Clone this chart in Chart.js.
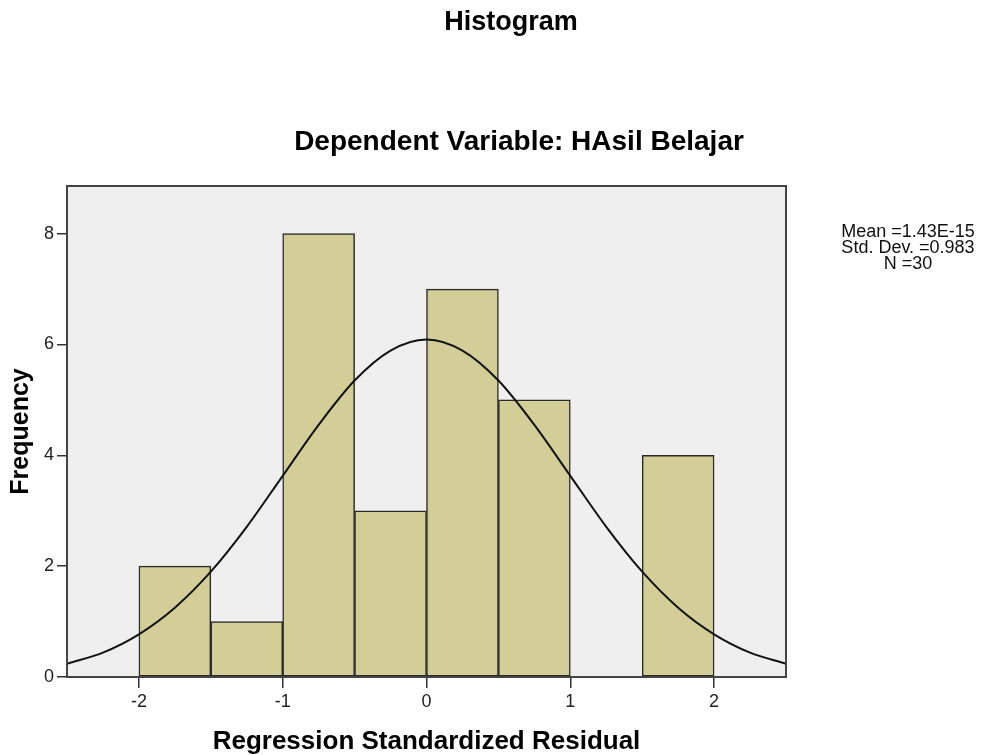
<!DOCTYPE html>
<html>
<head>
<meta charset="utf-8">
<title>Histogram</title>
<script src="https://cdn.jsdelivr.net/npm/chart.js@4"></script>
<style>
  html, body { margin: 0; padding: 0; background: #fff; }
</style>
</head>
<body>
<canvas id="grafico" width="985" height="755"></canvas>
<script>
// datos del histograma (residuales estandarizados, intervalos de 0.5)
const centrosBin = [-1.75, -1.25, -0.75, -0.25, 0.25, 0.75, 1.25, 1.75];
const frecuencias = [2, 1, 8, 3, 7, 5, 0, 4];

// curva normal
const curvaX = [-2.5, -2.25, -2, -1.75, -1.5, -1.25, -1, -0.75, -0.5, -0.25, 0,
                0.25, 0.5, 0.75, 1, 1.25, 1.5, 1.75, 2, 2.25, 2.5];
const curvaY = [0.24, 0.44, 0.77, 1.25, 1.90, 2.71, 3.63, 4.55, 5.35, 5.89, 6.09,
                5.89, 5.35, 4.55, 3.63, 2.71, 1.90, 1.25, 0.77, 0.44, 0.24];

const ticksX = [-2, -1, 0, 1, 2];
const ticksY = [0, 2, 4, 6, 8];
const estadisticos = ['Mean =1.43E-15', 'Std. Dev. =0.983', 'N =30'];

const FUENTE = '"Liberation Sans", Arial, sans-serif';

// fondo gris del área, marco y textos
const decoracion = {
    id: 'decoracion',
    beforeDraw(chart) {
        const { ctx, chartArea: a } = chart;
        ctx.save();
        ctx.fillStyle = '#efefef';
        ctx.fillRect(a.left, a.top, a.width, a.height);
        ctx.restore();
    },
    afterDraw(chart) {
        const { ctx, chartArea: a } = chart;
        ctx.save();
        ctx.strokeStyle = '#444';
        ctx.lineWidth = 2;
        ctx.strokeRect(a.left, a.top, a.width, a.height);

        ctx.fillStyle = '#000';
        ctx.textAlign = 'center';
        ctx.textBaseline = 'middle';
        ctx.font = 'bold 27px ' + FUENTE;
        ctx.fillText('Histogram', 511, 23);
        ctx.font = 'bold 28px ' + FUENTE;
        ctx.fillText('Dependent Variable: HAsil Belajar', 519, 142);

        ctx.font = '18px ' + FUENTE;
        ctx.fillStyle = '#111';
        estadisticos.forEach((t, i) => ctx.fillText(t, 908, 232 + i * 16));
        ctx.restore();
    }
};

const ctx = document.getElementById('grafico').getContext('2d');
new Chart(ctx, {
    type: 'bar',
    data: {
        datasets: [
            {
                type: 'line',
                data: curvaX.map((x, i) => ({ x: x, y: curvaY[i] })),
                borderColor: '#111',
                borderWidth: 2,
                pointRadius: 0,
                fill: false,
                cubicInterpolationMode: 'monotone',
                order: 0
            },
            {
                type: 'bar',
                data: centrosBin.map((x, i) => ({ x: x, y: frecuencias[i] })),
                backgroundColor: '#d3ce97',
                borderColor: '#2a2a2a',
                borderWidth: 1.5,
                borderSkipped: false,
                barPercentage: 1,
                categoryPercentage: 1,
                order: 1
            }
        ]
    },
    options: {
        responsive: false,
        animation: false,
        devicePixelRatio: 1,
        layout: { padding: { left: 0, top: 186, right: 199, bottom: 0 } },
        plugins: {
            legend: { display: false },
            title: { display: false },
            tooltip: { enabled: false }
        },
        scales: {
            x: {
                type: 'linear',
                offset: false,
                min: -2.5,
                max: 2.5,
                afterBuildTicks: s => { s.ticks = ticksX.map(v => ({ value: v })); },
                afterFit: s => { s.height = 78; },
                grid: { offset: false, drawOnChartArea: false, drawTicks: true, tickLength: 11, color: '#333', lineWidth: 1.5 },
                border: { display: true, color: '#333', width: 2 },
                ticks: { color: '#222', padding: 3, font: { family: FUENTE, size: 18 } },
                title: {
                    display: true,
                    text: 'Regression Standardized Residual',
                    color: '#000',
                    padding: { top: 0, bottom: 0 },
                    font: { family: FUENTE, size: 26, weight: 'bold', lineHeight: 1 }
                }
            },
            y: {
                min: 0,
                max: 8.86,
                afterBuildTicks: s => { s.ticks = ticksY.map(v => ({ value: v })); },
                afterFit: s => { s.width = 67; },
                grid: { drawOnChartArea: false, drawTicks: true, tickLength: 10, color: '#333', lineWidth: 1.5 },
                border: { display: true, color: '#333', width: 2 },
                ticks: { color: '#222', padding: 3, font: { family: FUENTE, size: 18 } },
                title: {
                    display: true,
                    text: 'Frequency',
                    color: '#000',
                    padding: { top: 9, bottom: 0 },
                    font: { family: FUENTE, size: 25, weight: 'bold', lineHeight: 1 }
                }
            }
        }
    },
    plugins: [decoracion]
});
</script>
</body>
</html>
